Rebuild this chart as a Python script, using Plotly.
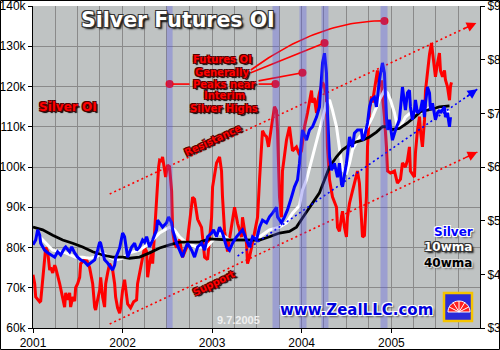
import numpy as np
import pandas as pd
import plotly.graph_objects as go

# ---------------- data (time = years since 1 Jan 2001) ----------------
oi_t = [0.000,0.019,0.030,0.075,0.086,0.108,0.142,0.164,0.186,0.198,0.220,0.242,0.253,0.298,0.331,0.353,0.365,0.387,0.409,0.420,
        0.443,0.465,0.476,0.498,0.521,0.532,0.577,0.588,0.632,0.666,0.688,0.699,0.721,0.744,0.755,0.777,0.799,0.811,0.833,0.855,
        0.889,0.911,0.922,0.944,0.967,0.978,1.000,1.022,1.056,1.089,1.123,1.156,1.167,1.190,1.223,1.245,1.268,1.279,1.301,1.324,
        1.335,1.357,1.379,1.402,1.413,1.435,1.446,1.469,1.480,1.502,1.524,1.547,1.558,1.580,1.602,1.636,1.669,1.714,1.747,1.781,
        1.803,1.837,1.881,1.915,1.948,1.970,1.993,2.004,2.026,2.048,2.082,2.104,2.115,2.138,2.171,2.216,2.249,2.283,2.327,2.338,
        2.361,2.383,2.394,2.416,2.439,2.472,2.506,2.528,2.561,2.584,2.606,2.628,2.662,2.695,2.717,2.729,2.751,2.773,2.784,2.829,
        2.862,2.885,2.896,2.940,2.974,2.996,3.030,3.063,3.108,3.119,3.141,3.164,3.175,3.197,3.231,3.253,3.275,3.286,3.309,3.342,
        3.387,3.398,3.420,3.442,3.454,3.476,3.498,3.509,3.532,3.565,3.610,3.621,3.643,3.665,3.677,3.699,3.721,3.733,3.755,3.777,
        3.788,3.833,3.844,3.866,3.889,3.900,3.922,3.944,3.956,3.989,4.034,4.067,4.101,4.123,4.156,4.179,4.201,4.212,4.257,4.268,
        4.290,4.313,4.324,4.346,4.369,4.380,4.402,4.425,4.447,4.480,4.491,4.514,4.536,4.547,4.570,4.592,4.603,4.625,4.648,4.659,4.670]
oi_k = [73.2,71,67.7,66.5,66.7,72.6,80,79,74.4,75,73.7,75.6,75,71,67,65.2,68.7,67,68.7,65.2,
        67.7,66.7,70,71,72.6,76,77,77.6,75,71,65.2,64.5,67,69.4,72.6,67.7,65.2,71,73.7,76,
        74.4,71,67.7,65,63.7,65,69.4,72,66,65,66.5,67,71,73.5,78,80,79,72.6,76,79,
        76,85,94,100,101.7,101.5,102.5,99,97.5,100.5,100,94,84,81,80,82,77.6,80,86,92.5,
        92,87,85,77.6,77,82,87.5,95,98,101,102.5,99,92.5,84,79,85,90,86,82.6,87.5,
        84,81,76,77.6,80,83.6,87.5,96.8,109,108,107.5,105,110,115,114,109,92.5,87.5,99,106.7,
        110,106.7,104,105,103,104,110,113.4,119,116,117,113.4,116,118.4,121,120,117.5,105,96.8,92.6,
        90,85,84,87.5,89,85,82.6,87.5,91,94,97.5,99,96,88.5,82.6,83,92.5,105,114,117.5,
        116,122.4,124,120,121.5,117.5,112.5,105,99,98.5,99,96,97,101,100,101.7,105,99,97.5,103.5,
        109,112.5,109,105,111.7,119,124,128,130.8,124,122.4,125.8,128.3,124,122.4,124,121.6,120,116.6,120,121]

ag_t = [0.000,0.030,0.052,0.075,0.086,0.130,0.164,0.198,0.242,0.275,0.309,0.353,0.365,0.409,0.432,0.465,0.498,0.532,0.577,0.610,
        0.643,0.688,0.721,0.744,0.755,0.777,0.799,0.833,0.866,0.889,0.911,0.922,0.967,1.000,1.022,1.045,1.056,1.101,1.134,1.156,
        1.190,1.223,1.245,1.268,1.301,1.335,1.379,1.390,1.413,1.446,1.491,1.513,1.547,1.558,1.602,1.636,1.669,1.692,1.725,1.770,
        1.803,1.837,1.881,1.915,1.948,1.993,2.015,2.048,2.082,2.115,2.160,2.193,2.227,2.271,2.305,2.338,2.383,2.416,2.450,2.494,
        2.528,2.561,2.606,2.639,2.673,2.717,2.729,2.773,2.807,2.840,2.885,2.918,2.952,2.974,2.996,3.007,3.052,3.085,3.119,3.164,
        3.197,3.219,3.231,3.253,3.275,3.286,3.309,3.331,3.364,3.398,3.420,3.442,3.454,3.498,3.532,3.565,3.587,3.621,3.665,3.677,
        3.699,3.733,3.755,3.777,3.811,3.833,3.866,3.900,3.922,3.944,3.956,3.978,3.989,4.011,4.045,4.089,4.123,4.145,4.156,4.179,
        4.201,4.212,4.234,4.257,4.268,4.290,4.324,4.346,4.369,4.380,4.402,4.425,4.436,4.458,4.480,4.491,4.514,4.536,4.547,4.592,
        4.603,4.625,4.648,4.659]
ag_usd = [4.55,4.64,4.83,4.73,4.58,4.45,4.40,4.36,4.32,4.42,4.36,4.49,4.51,4.42,4.51,4.40,4.32,4.27,4.23,4.17,
          4.21,4.27,4.45,4.60,4.58,4.40,4.27,4.21,4.12,4.08,4.17,4.30,4.49,4.77,4.70,4.40,4.32,4.51,4.58,4.45,
          4.51,4.64,4.60,4.70,4.51,4.64,4.83,5.01,4.96,4.88,4.96,5.07,4.96,4.83,4.58,4.45,4.32,4.45,4.58,4.45,
          4.32,4.51,4.58,4.45,4.70,4.77,4.83,4.70,4.88,4.77,4.51,4.45,4.58,4.70,4.77,4.83,4.64,4.51,4.70,4.64,
          4.88,5.01,4.96,5.07,5.14,5.25,5.07,4.96,5.07,5.20,5.44,5.63,5.76,6.07,6.50,6.69,6.50,6.69,6.75,6.93,
          7.12,7.62,7.94,8.12,7.75,7.01,6.19,5.94,6.07,5.81,6.07,5.70,5.63,6.07,6.56,6.37,6.63,6.69,6.69,6.50,
          6.56,6.82,7.12,7.25,7.30,7.12,7.62,7.94,7.75,6.93,6.69,6.88,6.75,6.50,6.69,6.88,7.49,7.25,7.06,7.38,
          7.43,7.12,6.88,7.06,7.25,7.01,7.06,7.25,6.93,7.19,7.49,7.38,7.06,7.19,7.01,6.88,7.01,7.06,7.01,7.12,
          6.93,7.01,6.75,6.93]

wma10_t = [0.075,0.108,0.220,0.365,0.476,0.554,0.632,0.699,0.777,0.855,0.922,1.000,1.078,1.190,1.301,1.413,1.524,1.580,1.636,1.714,
           1.825,1.937,2.004,2.082,2.193,2.305,2.416,2.528,2.639,2.751,2.829,2.896,2.974,3.007,3.052,3.119,3.197,3.275,3.309,3.342,
           3.387,3.420,3.454,3.498,3.532,3.565,3.621,3.677,3.733,3.788,3.866,3.922,3.956,3.989,4.034,4.067,4.101,4.156,4.212,4.290,
           4.369,4.436,4.514,4.592,4.648]
wma10 = [4.70,4.64,4.45,4.40,4.32,4.32,4.30,4.32,4.40,4.32,4.27,4.30,4.40,4.45,4.58,4.77,4.88,4.83,4.70,4.58,
         4.51,4.51,4.64,4.77,4.64,4.64,4.64,4.70,4.83,4.88,4.96,5.14,5.28,5.57,5.76,6.19,6.69,7.19,7.25,7.06,
         6.75,6.37,5.94,5.89,6.07,6.32,6.50,6.63,6.75,6.93,7.25,7.43,7.38,7.25,7.01,6.75,6.75,6.93,7.01,7.01,
         7.03,7.12,7.10,7.06,7.01]

wma40_t = [0.000,0.108,0.220,0.331,0.443,0.554,0.666,0.777,0.889,1.000,1.078,1.190,1.301,1.413,1.524,1.636,1.747,1.859,1.970,2.193,
           2.416,2.528,2.639,2.751,2.862,2.940,3.007,3.052,3.119,3.197,3.253,3.309,3.387,3.454,3.532,3.610,3.677,3.755,3.833,3.900,
           3.956,4.011,4.089,4.179,4.257,4.324,4.402,4.480,4.536,4.648]
wma40 = [4.88,4.83,4.73,4.64,4.58,4.51,4.42,4.36,4.32,4.32,4.30,4.32,4.40,4.49,4.55,4.60,4.60,4.60,4.66,4.64,
         4.64,4.64,4.70,4.77,4.80,4.88,5.05,5.16,5.33,5.52,5.76,6.00,6.19,6.32,6.41,6.47,6.50,6.56,6.65,6.75,
         6.75,6.70,6.72,6.82,6.93,7.03,7.06,7.10,7.12,7.14]

band_start = [1.491, 2.673, 2.974, 3.219, 3.878]
band_end = [1.558, 2.751, 3.052, 3.297, 3.956]

resist_t, resist_k = [0.856, 4.948], [93.3, 135.8]
support_t, support_k = [0.856, 4.959], [61.0, 103.7]
trend_t, trend_usd = [2.283, 4.959], [4.34, 7.45]

peak_t = [1.524, 2.706, 3.007, 3.253, 3.922]
peak_k = [120.6, 120.6, 123.4, 130.8, 136.3]
ptr_from_t = [1.747, 2.517, 2.517, 2.430, 2.430]
ptr_from_k = [120.6, 120.6, 121.4, 123.4, 124.1]
curve_ctrl = (3.197, 136.5)

oi_ticks = [60, 70, 80, 90, 100, 110, 120, 130, 140]
usd_ticks = [3, 4, 5, 6, 7, 8, 9]
year_ticks = ['2001-01-01', '2002-01-01', '2003-01-01', '2004-01-01', '2005-01-01']
year_labels = ['2001', '2002', '2003', '2004', '2005']

# ---------------- helpers ----------------
T0 = pd.Timestamp('2001-01-01')
def to_date(ts):
    return [T0 + pd.Timedelta(days=float(t) * 365.25) for t in ts]

L, R, T, B = 33, 20, 6, 22
W, H = 500, 350
PW, PH = W - L - R, H - T - B
def px(x):
    return (x - L) / PW
def py(y):
    return 1 - (y - T) / PH

RED = '#ff0000'
fig = go.Figure()

fig.add_trace(go.Scatter(x=to_date(oi_t), y=oi_k, mode='lines', line=dict(color=RED, width=3), yaxis='y'))
fig.add_trace(go.Scatter(x=to_date(wma10_t), y=wma10, mode='lines', line=dict(color='#ffffff', width=3), yaxis='y2'))
fig.add_trace(go.Scatter(x=to_date(wma40_t), y=wma40, mode='lines', line=dict(color='#000000', width=2.8), yaxis='y2'))
fig.add_trace(go.Scatter(x=to_date(ag_t), y=ag_usd, mode='lines', line=dict(color='#0000ff', width=3), yaxis='y2'))

# dotted trend channels
fig.add_trace(go.Scatter(x=to_date(resist_t), y=resist_k, mode='lines', line=dict(color=RED, width=1.6, dash='2px,3px'), yaxis='y'))
fig.add_trace(go.Scatter(x=to_date(support_t), y=support_k, mode='lines', line=dict(color=RED, width=1.6, dash='2px,3px'), yaxis='y'))
fig.add_trace(go.Scatter(x=to_date(trend_t), y=trend_usd, mode='lines', line=dict(color='#0000ff', width=1.6, dash='2px,3px'), yaxis='y2'))

# pointer lines from text to OI peaks
for i in range(4):
    fig.add_trace(go.Scatter(x=to_date([ptr_from_t[i], peak_t[i]]), y=[ptr_from_k[i], peak_k[i]], mode='lines',
                             line=dict(color=RED, width=1.6), yaxis='y'))
s = np.linspace(0, 1, 40)
bx = (1 - s) ** 2 * ptr_from_t[4] + 2 * s * (1 - s) * curve_ctrl[0] + s ** 2 * peak_t[4]
by = (1 - s) ** 2 * ptr_from_k[4] + 2 * s * (1 - s) * curve_ctrl[1] + s ** 2 * peak_k[4]
fig.add_trace(go.Scatter(x=to_date(bx), y=by, mode='lines', line=dict(color=RED, width=1.6), yaxis='y'))
fig.add_trace(go.Scatter(x=to_date(peak_t), y=peak_k, mode='markers', marker=dict(color=RED, size=8, line=dict(width=0)), yaxis='y'))

shapes = []
for a, b in zip(band_start, band_end):
    d0, d1 = to_date([a, b])
    shapes.append(dict(type='rect', xref='x', yref='paper', x0=d0, x1=d1, y0=0, y1=1,
                       fillcolor='rgba(85,85,235,0.33)', line=dict(width=0), layer='above'))
# outer frame
shapes.append(dict(type='rect', xref='paper', yref='paper', x0=px(0.5), x1=px(499.5), y0=py(349.5), y1=py(0.5),
                   line=dict(color='black', width=1), fillcolor='rgba(0,0,0,0)'))
# logo
shapes.append(dict(type='rect', xref='paper', yref='paper', x0=px(444), x1=px(472), y0=py(321), y1=py(293),
                   fillcolor='#2b2bd8', line=dict(color='#f5c400', width=2.5), layer='above'))
cx, cy, r = 459, 312, 11
ang = np.linspace(np.pi, 2 * np.pi, 20)
pts = ' L'.join(f'{px(cx + r * np.cos(a)):.4f},{py(cy + r * np.sin(a)):.4f}' for a in ang)
shapes.append(dict(type='path', xref='paper', yref='paper',
                   path=f'M{px(cx):.4f},{py(cy):.4f} L{pts} Z', fillcolor='#ff2020', line=dict(color='white', width=1), layer='above'))
for a in np.linspace(np.pi * 1.15, np.pi * 1.85, 5):
    shapes.append(dict(type='line', xref='paper', yref='paper', x0=px(cx), y0=py(cy),
                       x1=px(cx + r * np.cos(a)), y1=py(cy + r * np.sin(a)), line=dict(color='white', width=1), layer='above'))

DARK = '-1px -1px 0 #333, 1px -1px 0 #333, -1px 1px 0 #333, 1px 1px 0 #333, 2px 2px 2px #000'
REDSH = '-1px -1px 0 #500, 1px -1px 0 #500, -1px 1px 0 #500, 1px 1px 0 #500, 2px 2px 1px #000'
WHITESH = '-1px -1px 0 #fff, 1px -1px 0 #fff, -1px 1px 0 #fff, 1px 1px 0 #fff, 2px 2px 2px #555'
LIGHTSH = '-1px -1px 0 #ddd, 1px -1px 0 #ddd, -1px 1px 0 #ddd, 1px 1px 0 #ddd, 2px 2px 2px #666'

def ann(text, x, y, size, color, shadow, angle=0, family='DejaVu Sans'):
    return dict(text=text, x=px(x), y=py(y), xref='paper', yref='paper', showarrow=False,
                xanchor='center', yanchor='middle', textangle=angle,
                font=dict(family=family, size=size, color=color, weight='bold', shadow=shadow))

anns = [
    ann('Silver Futures OI', 178, 20, 20.5, '#ffffff', DARK),
    ann('Silver OI', 68, 107, 12, RED, REDSH),
    ann('Futures OI', 222, 60, 10, RED, REDSH),
    ann('Generally', 222, 72, 10, RED, REDSH),
    ann('Peaks near', 224, 84, 10, RED, REDSH),
    ann('Interim', 224, 96, 10, RED, REDSH),
    ann('Silver Highs', 224, 108, 10, RED, REDSH),
    ann('Resistance', 212, 140, 10, RED, REDSH, -25),
    ann('Support', 213, 283, 10, RED, REDSH, -26),
    ann('9.7.2005', 238, 320, 11, '#f0f0f0', 'none', 0, 'Liberation Sans'),
    ann('www.ZealLLC.com', 356, 310, 15, '#0000dd', WHITESH),
    ann('Silver', 453, 232, 12, '#0000ff', WHITESH),
    ann('10wma', 448, 247, 12, '#ffffff', DARK),
    ann('40wma', 448, 263, 12, '#000000', LIGHTSH),
]
# arrowheads at the ends of the dotted channels
for tt, vv, yref, col, dx, dy in [(resist_t, resist_k, 'y', RED, -14, 6.5),
                                   (support_t, support_k, 'y', RED, -14, 6.5),
                                   (trend_t, trend_usd, 'y2', '#0000ff', -12, 8.4)]:
    anns.append(dict(x=to_date([tt[1]])[0], y=vv[1], xref='x', yref=yref, text='', showarrow=True,
                     ax=dx, ay=dy, arrowhead=2, arrowsize=1.3, arrowwidth=1.5, arrowcolor=col, standoff=0))

TICKFONT = dict(family='Liberation Sans, Arial', size=12, color='black')
GRID = '#8a8a8a'
fig.update_layout(
    width=W, height=H, autosize=False, margin=dict(l=L, r=R, t=T, b=B, pad=0, autoexpand=False),
    paper_bgcolor='white', plot_bgcolor='#bfc3c3', showlegend=False,
    shapes=shapes, annotations=anns,
    xaxis=dict(type='date', range=['2001-01-01', '2005-12-28'], tickvals=pd.to_datetime(year_ticks), ticktext=year_labels,
               ticks='outside', ticklen=4, tickcolor='black', showline=True, linecolor='black', linewidth=1,
               showgrid=True, gridcolor=GRID, gridwidth=1, tickfont=TICKFONT, zeroline=False, ticklabeloverflow='allow',
               automargin=False,
               minor=dict(dtick='M3', tick0='2001-01-01', showgrid=True, gridcolor=GRID, gridwidth=1, ticks='')),
    yaxis=dict(range=[60, 140], tickvals=oi_ticks, ticktext=[f'{v}k' for v in oi_ticks], ticks='outside', ticklen=4,
               tickcolor='black', showline=True, linecolor='black', linewidth=1, showgrid=True, gridcolor=GRID, gridwidth=1,
               tickfont=TICKFONT, zeroline=False, ticklabeloverflow='allow', automargin=False),
    yaxis2=dict(range=[3, 9], tickvals=usd_ticks, ticktext=[f'${v}' for v in usd_ticks], overlaying='y', side='right',
                ticks='outside', ticklen=4, tickcolor='black', showline=True, linecolor='black', linewidth=1,
                showgrid=False, tickfont=TICKFONT, zeroline=False, ticklabeloverflow='allow', automargin=False),
)

fig.write_html('out.html')
